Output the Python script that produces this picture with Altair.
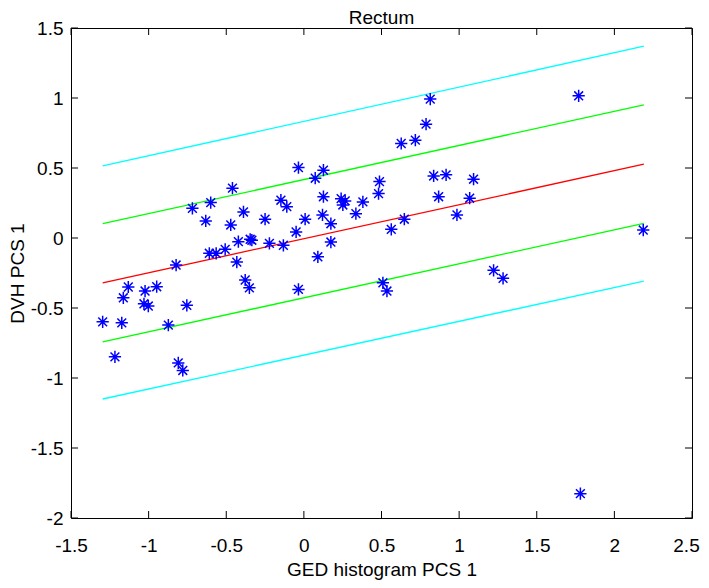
import altair as alt
import pandas as pd

FONT = "Liberation Sans"

# ---- scatter data: GED histogram PCS 1 (x) vs DVH PCS 1 (y) ----
ged_pcs1 = [
    -0.460, -0.718, -0.600, -0.632, -0.471, -0.389, -0.250, -0.422, -0.346, -0.335,
    -0.222, -0.609, -0.565, -0.507, -0.432, -0.823, -0.378, -0.351, -1.131, -1.163,
    -1.023, -0.948, -1.030, -1.002, -0.754, -1.296, -1.173, -0.873, -1.217, -0.809,
    -0.780,
    0.814, 0.787, 0.627, 0.718, -0.035, 0.126, 0.073, 0.836, 0.916, 1.093,
    0.487, 0.481, -0.148, -0.110, 0.126, 0.240, 0.266, 0.251, 0.380, 0.868,
    1.068, 0.008, 0.120, 0.174, 0.335, 0.647, 0.986, 0.563, -0.050, -0.132,
    0.174, 0.090, -0.035, 0.509, 0.535, 1.222,
    1.770, 2.186, 1.283, 1.781,
]
dvh_pcs1 = [
    0.356, 0.212, 0.253, 0.122, 0.093, 0.186, 0.134, -0.026, -0.009, -0.016,
    -0.038, -0.109, -0.109, -0.081, -0.172, -0.193, -0.300, -0.356, -0.350, -0.427,
    -0.379, -0.348, -0.470, -0.486, -0.481, -0.599, -0.606, -0.622, -0.849, -0.892,
    -0.946,
    0.992, 0.813, 0.675, 0.699, 0.503, 0.484, 0.427, 0.443, 0.451, 0.420,
    0.403, 0.317, 0.270, 0.224, 0.295, 0.281, 0.265, 0.236, 0.258, 0.295,
    0.284, 0.134, 0.165, 0.102, 0.174, 0.134, 0.165, 0.062, 0.043, -0.052,
    -0.029, -0.134, -0.367, -0.320, -0.379, -0.231,
    1.016, 0.057, -0.288, -1.826,
]

# ---- regression line and bands (end points) ----
line_x = [-1.296, 2.190]
fit_y = [-0.320, 0.527]
band1_hi_y = [0.102, 0.951]
band1_lo_y = [-0.742, 0.105]
band2_hi_y = [0.515, 1.370]
band2_lo_y = [-1.150, -0.308]

line_names = ["fit", "band1_hi", "band1_lo", "band2_hi", "band2_lo"]
line_colors = ["#FF0000", "#00FF00", "#00FF00", "#00FFFF", "#00FFFF"]

tick_x = [-1.5, -1, -0.5, 0, 0.5, 1, 1.5, 2, 2.5]
tick_y = [-2, -1.5, -1, -0.5, 0, 0.5, 1, 1.5]

title_text = "Rectum"
x_title = "GED histogram PCS 1"
y_title = "DVH PCS 1"

W, H = 621, 490
TICK = 7

pts = pd.DataFrame({"x": ged_pcs1, "y": dvh_pcs1})


def line_frame(names, ys):
    rows = []
    for n, yy in zip(names, ys):
        for xv, yv in zip(line_x, yy):
            rows.append({"x": xv, "y": yv, "line": n})
    return pd.DataFrame(rows)


lines_df = line_frame(line_names, [fit_y, band1_hi_y, band1_lo_y, band2_hi_y, band2_lo_y])
xt_df = pd.DataFrame({"v": tick_x})
yt_df = pd.DataFrame({"v": tick_y})

xscale = alt.Scale(domain=[-1.5, 2.5], nice=False, zero=False)
yscale = alt.Scale(domain=[-2, 1.5], nice=False, zero=False)
cscale = alt.Scale(domain=line_names, range=line_colors)

common_lab = dict(labelFont=FONT, labelFontSize=19, labelColor="black",
                  titleFont=FONT, titleFontSize=19, titleFontWeight="normal",
                  titleColor="black", grid=False, domain=False)

main_x_axis = alt.Axis(orient="bottom", values=tick_x, labelExpr="toString(datum.value)",
                       ticks=False, labelPadding=18, labelFlush=False, labelOverlap=False,
                       labelOffset={"condition": {"test": "datum.value == 2.5", "value": -6},
                                    "value": 0},
                       titleX=W / 2, titleY=57, titleAlign="center",
                       titleBaseline="alphabetic", **common_lab)
main_y_axis = alt.Axis(orient="left", values=tick_y, labelExpr="toString(datum.value)",
                       ticks=False, labelPadding=8, labelFlush=False, labelOverlap=False,
                       titleAngle=270, titleX=-48, titleY=H / 2, titleAlign="center",
                       titleBaseline="alphabetic", **common_lab)

lines = alt.Chart(lines_df).mark_line(strokeWidth=1.3).encode(
    x=alt.X("x:Q", scale=xscale, axis=None),
    y=alt.Y("y:Q", scale=yscale, axis=None),
    color=alt.Color("line:N", scale=cscale, legend=None),
    detail="line:N",
)

# inward tick marks on all four sides of the box (MATLAB style)
rule_style = dict(color="black", strokeWidth=1)
ticks_bottom = alt.Chart(xt_df).mark_rule(**rule_style).encode(
    x=alt.X("v:Q", scale=xscale, axis=None), y=alt.value(H), y2=alt.value(H - TICK))
ticks_top = alt.Chart(xt_df).mark_rule(**rule_style).encode(
    x=alt.X("v:Q", scale=xscale, axis=None), y=alt.value(0), y2=alt.value(TICK))
ticks_left = alt.Chart(yt_df).mark_rule(**rule_style).encode(
    y=alt.Y("v:Q", scale=yscale, axis=None), x=alt.value(0), x2=alt.value(TICK))
ticks_right = alt.Chart(yt_df).mark_rule(**rule_style).encode(
    y=alt.Y("v:Q", scale=yscale, axis=None), x=alt.value(W), x2=alt.value(W - TICK))

ASTERISK = "M-1,0L1,0M0,-1L0,1M-0.72,-0.72L0.72,0.72M-0.72,0.72L0.72,-0.72"

points = alt.Chart(pts).mark_point(
    shape=ASTERISK, size=150, filled=False, stroke="#0000FF", strokeWidth=1.5, opacity=1
).encode(
    x=alt.X("x:Q", scale=xscale, axis=main_x_axis, title=x_title),
    y=alt.Y("y:Q", scale=yscale, axis=main_y_axis, title=y_title),
)

title_layer = alt.Chart(pd.DataFrame({"t": [title_text]})).mark_text(
    font=FONT, fontSize=19, color="black", align="center", baseline="alphabetic"
).encode(text="t:N", x=alt.value(W / 2), y=alt.value(-4))

chart = alt.layer(
    ticks_bottom, ticks_top, ticks_left, ticks_right, lines, points, title_layer
).resolve_axis(
    x="independent", y="independent"
).properties(
    width=W,
    height=H,
    padding={"left": 63, "top": 20, "right": 9, "bottom": 62},
    autosize=alt.AutoSizeParams(type="none"),
    background="white",
).configure_view(stroke="black", strokeWidth=1)

chart.save("out.html", embed_options={"renderer": "svg", "actions": False})
